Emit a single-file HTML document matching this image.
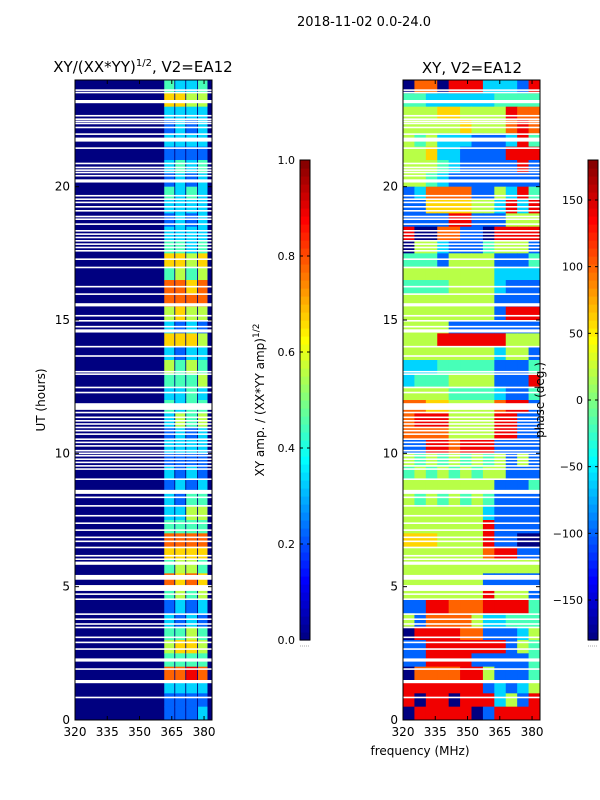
<!DOCTYPE html>
<html><head><meta charset="utf-8">
<style>
html,body{margin:0;padding:0;background:#fff;}
svg{display:block;font-family:"DejaVu Sans","Liberation Sans",sans-serif;}
</style></head>
<body>
<svg id="fig" width="600" height="800" viewBox="0 0 600 800">
<text x="364" y="26" font-size="13" text-anchor="middle">2018-11-02 0.0-24.0</text>
<text x="143" y="72" font-size="15" text-anchor="middle">XY/(XX*YY)<tspan font-size="10" dy="-6">1/2</tspan><tspan dy="6">, V2=EA12</tspan></text>
<text x="472" y="73" font-size="15" text-anchor="middle">XY, V2=EA12</text>
<text x="420" y="755" font-size="12" text-anchor="middle">frequency (MHz)</text>
<text transform="translate(45,400) rotate(-90)" font-size="12" text-anchor="middle">UT (hours)</text>
<text transform="translate(264,400) rotate(-90)" font-size="12" text-anchor="middle">XY amp. / (XX*YY amp)<tspan font-size="9" dy="-5">1/2</tspan></text>
<g id="left"></g>
<g id="right"></g>
<g id="cb1"></g>
<g id="cb2"></g>
<g id="axes"></g>
<text transform="translate(544,400) rotate(-90)" font-size="12" text-anchor="middle">phase (deg.)</text>
</svg>
<script>
// ---- data ----
const timeRange = [0, 24];
const freqRange = [320, 383.7];
const xTicks = [320, 335, 350, 365, 380];
const yTicks = [0, 5, 10, 15, 20];
const ampTicks = [0.0, 0.2, 0.4, 0.6, 0.8, 1.0];
const phaseTicks = [-150, -100, -50, 0, 50, 100, 150];
const ampBase = 0.0;
const ampBands = [[361.5, 366.2], [366.6, 371.3], [371.7, 376.8], [377.2, 381.6]];
// amplitude per 0.5h row (top=24h), one digit per sub-band (value = d/9)
const ampRows = ["4334","6655","3333","2323","3333","2222","3434","2323","4343","3333","2323","3333",
"4434","6656","4545","7767","7777","5655","3232","6665","3233","5454","4445","3343",
"4344","3545","2323","3333","2222","3232","2323","3244","3355","4444","7777","6666",
"4554","7676","4545","2323","3232","4454","5665","4444","7787","3333","2222","2223"];
// phase per 0.5h row (top=24h), 12 freq columns, digit d -> -180 + d*40
const phaseRows = ["077088833328","443333334444","555665555877","555556555787","545333222384","556332222888",
"555432222282","554322222222","237777225384","226666553838","222288222555","800772208888",
"055322245552","444255552224","555555553333","444455553222","555555552222","555555552888",
"555522222222","555888888555","555555553552","333444442224","344455552228","555544443224",
"776655557882","788855558822","777755558822","228878882222","545454545252","454545455222",
"555555552224","545454542222","555555532222","555555582222","666555582200","555555578822",
"555555555555","555555522222","555555585552","228877788884","527777533444","088887722235",
"228888888254","228888222224","077778852224","888888823235","808808883528","088888028888"];
const flagHours = [23.65,23.56,23.25,22.69,22.56,22.48,22.4,22.25,22.0,21.84,21.475,20.9,20.75,20.65,20.56,20.44,20.275,19.69,19.56,19.44,19.275,19.125,18.91,18.81,18.625,18.375,18.25,18.125,18.0,17.875,17.75,17.625,17.31,17.0,
16.28,16.0,15.63,15.19,15.0,14.78,14.65,14.03,13.68,13.09,13.0,12.5,12.31,11.88,11.69,11.56,11.38,11.25,11.13,11.0,10.88,10.75,10.56,10.44,10.31,10.13,10.03,9.94,9.81,9.69,9.56,9.44,9.06,8.63,8.38,8.06,7.69,7.41,7.15,6.88,6.73,6.5,6.19,6.06,5.94,5.44,5.06,4.9,4.75,4.56,4.0,3.81,3.63,3.5,3.13,2.94,2.69,2.31,1.94,1.5,0.875];
const flagDur = {21.84:0.15,23.25:0.12,20.275:0.12,15.63:0.12,14.65:0.12,11.88:0.2,8.63:0.15,5.94:0.12,5.44:0.18,5.06:0.18,2.31:0.12,1.5:0.12};

// ---- helpers ----
const NS = "http://www.w3.org/2000/svg";
function mk(tag, attrs, parent){const e=document.createElementNS(NS,tag);for(const k in attrs)e.setAttribute(k,attrs[k]);parent.appendChild(e);return e;}
function jet(v){v=Math.max(0,Math.min(1,v));
  const c=x=>Math.round(255*Math.max(0,Math.min(1,x)));
  const r=c(1.5-Math.abs(4*v-3)),g=c(1.5-Math.abs(4*v-2)),b=c(1.5-Math.abs(4*v-1));
  return `rgb(${r},${g},${b})`;}
const Y0=80,Y1=720;
const yS=h=>Y1-(h-timeRange[0])/(timeRange[1]-timeRange[0])*(Y1-Y0);
function xScale(x0,x1){return f=>x0+(f-freqRange[0])/(freqRange[1]-freqRange[0])*(x1-x0);}
const xL=xScale(75,212), xR=xScale(403,540);
const rowH=(timeRange[1]-timeRange[0])/ampRows.length;

// left heatmap
const gL=document.getElementById('left');
let bg=mk('rect',{x:75,y:Y0,width:137,height:Y1-Y0,fill:jet(ampBase)},gL);


ampRows.forEach((row,i)=>{
  const hTop=timeRange[1]-i*rowH;
  for(let j=0;j<ampBands.length;j++){
    const v=parseInt(row[j])/9;
    const x=xL(ampBands[j][0]), w=xL(ampBands[j][1])-x;
    const r=mk('rect',{x:x,y:yS(hTop),width:w,height:yS(hTop-rowH)-yS(hTop)+0.5,fill:jet(v)},gL);
    
    
  }
});
// right heatmap
const gR=document.getElementById('right');
const nCols=phaseRows[0].length, colW=(freqRange[1]-freqRange[0])/nCols;
phaseRows.forEach((row,i)=>{
  const hTop=timeRange[1]-i*rowH;
  for(let j=0;j<nCols;j++){
    const ph=-180+parseInt(row[j])*40;
    const f0=freqRange[0]+j*colW;
    const r=mk('rect',{x:xR(f0),y:yS(hTop),width:xR(f0+colW)-xR(f0)+0.5,height:yS(hTop-rowH)-yS(hTop)+0.5,fill:jet((ph+180)/360)},gR);
    
    
  }
});
// flags
flagHours.forEach(h=>{
  const d=flagDur[h]||0.06;
  [[75,137,gL],[403,137,gR]].forEach(([x,w,g])=>{
    const r=mk('rect',{x:x,y:yS(h),width:w,height:Math.max(1.5,yS(h-d)-yS(h)),fill:'#fff'},g);
    
    
  });
});
// axes
const gA=document.getElementById('axes');
[[75,xL],[403,xR]].forEach(([x0,xs],k)=>{
  const fr=mk('rect',{x:x0,y:Y0,width:137,height:Y1-Y0,fill:'none',stroke:'#000','stroke-width':1},gA);
  
  
  xTicks.forEach(t=>{
    const x=xs(t);
    mk('line',{x1:x,y1:Y1,x2:x,y2:Y1-4,stroke:'#000'},gA);
    mk('line',{x1:x,y1:Y0,x2:x,y2:Y0+4,stroke:'#000'},gA);
    const tx=mk('text',{x:x,y:Y1+16,'font-size':12,'text-anchor':'middle'},gA);
    tx.textContent=t;
    
    
  });
  yTicks.forEach(t=>{
    const y=yS(t);
    mk('line',{x1:x0,y1:y,x2:x0+4,y2:y,stroke:'#000'},gA);
    mk('line',{x1:x0+137,y1:y,x2:x0+133,y2:y,stroke:'#000'},gA);
    const tx=mk('text',{x:x0-5,y:y+4,'font-size':12,'text-anchor':'end'},gA);
    tx.textContent=t;
    
    
  });
});
// colorbars
function colorbar(id,x,lo,hi,ticks,fmt){
  const g=document.getElementById(id);const top=160,bot=640,n=60;
  for(let i=0;i<n;i++){
    const v=(i+0.5)/n;
    mk('rect',{x:x,y:bot-(i+1)*(bot-top)/n,width:10,height:(bot-top)/n+0.6,fill:jet(v)},g);
  }
  mk('rect',{x:x,y:top,width:10,height:bot-top,fill:'none',stroke:'#000'},g);
  mk('line',{x1:x,y1:bot+6,x2:x+10,y2:bot+6,stroke:'#aaa','stroke-dasharray':'1,1'},g);
  ticks.forEach(t=>{
    const y=bot-(t-lo)/(hi-lo)*(bot-top);
    mk('line',{x1:x,y1:y,x2:x+3,y2:y,stroke:'#000'},g);
    mk('line',{x1:x+10,y1:y,x2:x+7,y2:y,stroke:'#000'},g);
    const tx=mk('text',{x:x-5,y:y+4,'font-size':11,'text-anchor':'end'},g);
    tx.textContent=fmt(t);
    
    
  });
}
colorbar('cb1',300,0,1,ampTicks,t=>t.toFixed(1));
colorbar('cb2',588,-180,180,phaseTicks,t=>t<0?'\u2212'+(-t):String(t));
</script>
</body></html>
